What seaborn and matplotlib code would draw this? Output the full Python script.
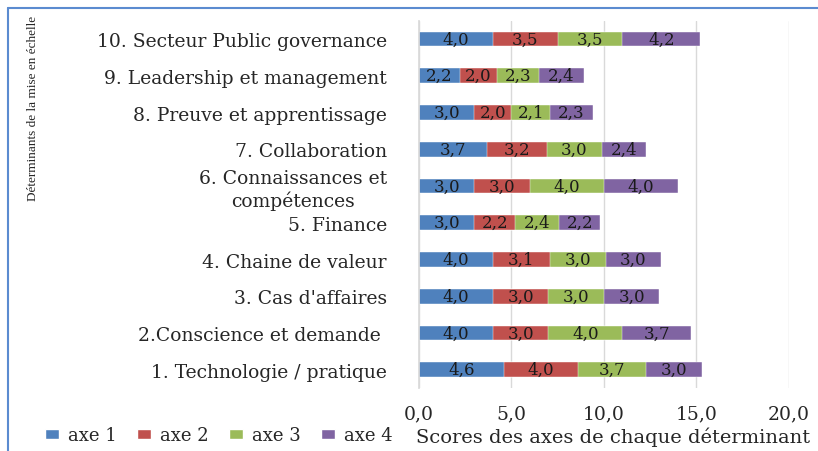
import matplotlib
matplotlib.use("Agg")
import matplotlib.pyplot as plt
from matplotlib.lines import Line2D
from matplotlib.patches import Patch
import numpy as np
import pandas as pd
import seaborn as sns

sns.set_theme(style="whitegrid")
plt.rcParams['font.family'] = ['DejaVu Serif']

# categories from top to bottom
categories = [
    "10. Secteur Public governance",
    "9. Leadership et management",
    "8. Preuve et apprentissage",
    "7. Collaboration",
    "6. Connaissances et\ncompétences",
    "5. Finance",
    "4. Chaine de valeur",
    "3. Cas d'affaires",
    "2.Conscience et demande ",
    "1. Technologie / pratique",
]
axe1 = [4.0, 2.2, 3.0, 3.7, 3.0, 3.0, 4.0, 4.0, 4.0, 4.6]
axe2 = [3.5, 2.0, 2.0, 3.2, 3.0, 2.2, 3.1, 3.0, 3.0, 4.0]
axe3 = [3.5, 2.3, 2.1, 3.0, 4.0, 2.4, 3.0, 3.0, 4.0, 3.7]
axe4 = [4.2, 2.4, 2.3, 2.4, 4.0, 2.2, 3.0, 3.0, 3.7, 3.0]
series = ["axe 1", "axe 2", "axe 3", "axe 4"]
colors = ["#4F81BD", "#C0504D", "#9BBB59", "#8064A2"]

df = pd.DataFrame({"cat": categories, "axe 1": axe1, "axe 2": axe2,
                   "axe 3": axe3, "axe 4": axe4})
cum = df[series].cumsum(axis=1)

fig = plt.figure(figsize=(8.18, 4.52), dpi=100)
ax = fig.add_axes([0.512, 0.139, 0.4525, 0.813])

# stacked bars: draw cumulative totals from the largest down
for s, c in reversed(list(zip(series, colors))):
    sns.barplot(x=cum[s], y=df["cat"], orient="h", color=c, width=0.4,
                edgecolor="white", linewidth=0.3, saturation=1, ax=ax)

# value labels in segment centres
for i in range(len(categories)):
    left = 0
    for s in series:
        v = df[s][i]
        ax.text(left + v / 2, i, f"{v:.1f}".replace(".", ","), ha="center",
                va="center", fontsize=12, color="#1a1a1a")
        left += v

ax.set_xlim(0, 20)
ax.set_xticks([0, 5, 10, 15, 20])
ax.set_xticklabels(["0,0", "5,0", "10,0", "15,0", "20,0"], fontsize=13.5)
ax.tick_params(axis="x", pad=6)
ax.tick_params(axis="y", labelsize=13.5, pad=17)
for lab in ax.get_yticklabels():
    lab.set_multialignment("center")
ax.set_xlabel("")
ax.set_ylabel("")
ax.grid(axis="x", color="#d9d9d9", linewidth=1)
ax.grid(axis="y", visible=False)
for sp in ["top", "right", "bottom"]:
    ax.spines[sp].set_visible(False)
ax.spines["left"].set_color("#d9d9d9")

fig.text(0.04, 0.76, "Déterminants de la mise en échelle", rotation=90,
         ha="center", va="center", fontsize=9.5, family="Liberation Serif")
fig.text(0.75, 0.033, "Scores des axes de chaque déterminant", ha="center",
         va="center", fontsize=14)

handles = [Patch(facecolor=c, label=s) for s, c in zip(series, colors)]
fig.legend(handles=handles, loc="center left", bbox_to_anchor=(0.035, 0.035),
           ncol=4, frameon=False, fontsize=13, handlelength=0.8,
           handleheight=0.5, handletextpad=0.5, columnspacing=1.1)

# figure border
fig.add_artist(Line2D([8 / 818, 8 / 818], [0, 1 - 9 / 452], color="#5B8BD0",
                      linewidth=1.5, transform=fig.transFigure))
fig.add_artist(Line2D([8 / 818, 1], [1 - 9 / 452, 1 - 9 / 452], color="#5B8BD0",
                      linewidth=1.5, transform=fig.transFigure))

fig.savefig("out.png", dpi=100)
